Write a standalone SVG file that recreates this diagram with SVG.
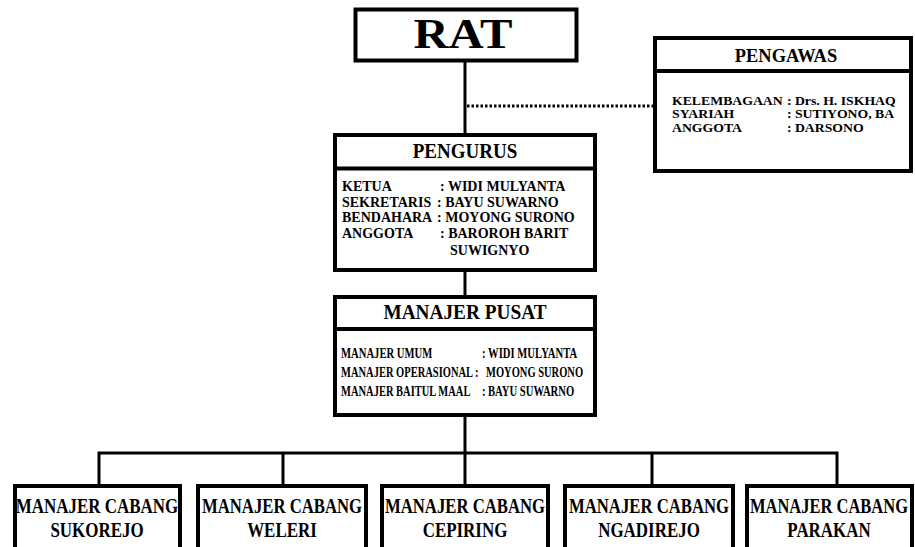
<svg xmlns="http://www.w3.org/2000/svg" width="915" height="547" viewBox="0 0 915 547">
<style>
.box{fill:#fff;stroke:#000;stroke-width:4}
.div{stroke:#000;stroke-width:4}
.t{font-family:"Liberation Serif","Times New Roman",serif;font-weight:bold;fill:#000}
.c{text-anchor:middle}
.ln{stroke:#000;stroke-width:3;fill:none}
.dot{stroke:#000;stroke-width:3;stroke-dasharray:2.5 2;fill:none}
.p{font-size:15px}
.b{font-size:22px;text-anchor:middle}
</style>
<rect width="915" height="547" fill="#fff"/>
<g id="connectors">
<line class="ln" x1="465" y1="61" x2="465" y2="134"/>
<line class="dot" x1="467" y1="106" x2="653" y2="106"/>
<line class="ln" x1="465" y1="271" x2="465" y2="296"/>
<line class="ln" x1="465" y1="416" x2="465" y2="453"/>
<polyline class="ln" points="99,485 99,453 837,453 837,485"/>
<line class="ln" x1="283" y1="453" x2="283" y2="485"/>
<line class="ln" x1="465" y1="453" x2="465" y2="485"/>
<line class="ln" x1="652" y1="453" x2="652" y2="485"/>
</g>
<g id="rat">
<rect class="box" x="355.5" y="9.5" width="221" height="51" stroke-width="4.5"/>
<text class="t c" transform="translate(463,48) scale(1.16,1)" font-size="42">RAT</text>
</g>
<g id="pengawas">
<rect class="box" x="655" y="38" width="256" height="133"/>
<line class="div" x1="655" y1="71" x2="911" y2="71" stroke-width="3.5"/>
<text class="t c" transform="translate(786,62) scale(0.97,1)" font-size="19">PENGAWAS</text>
<g transform="translate(672,0) scale(1.1,1)">
<text class="t" font-size="12.5" x="0" y="105">KELEMBAGAAN</text>
<text class="t" font-size="12.5" x="104.5" y="105">: Drs. H. ISKHAQ</text>
<text class="t" font-size="12.5" x="0" y="118.5">SYARIAH</text>
<text class="t" font-size="12.5" x="104.5" y="118.5">: SUTIYONO, BA</text>
<text class="t" font-size="12.5" x="0" y="132">ANGGOTA</text>
<text class="t" font-size="12.5" x="104.5" y="132">: DARSONO</text>
</g>
</g>
<g id="pengurus">
<rect class="box" x="335" y="135" width="260" height="135"/>
<line class="div" x1="335" y1="168.5" x2="595" y2="168.5"/>
<text class="t c" transform="translate(465,158) scale(0.95,1)" font-size="20">PENGURUS</text>
<text class="t" font-size="14">
<tspan x="342" y="191">KETUA</tspan><tspan x="440" y="191">: WIDI MULYANTA</tspan>
<tspan x="342" y="207">SEKRETARIS</tspan><tspan x="437" y="207">: BAYU SUWARNO</tspan>
<tspan x="342" y="222">BENDAHARA</tspan><tspan x="437" y="222">: MOYONG SURONO</tspan>
<tspan x="342" y="238">ANGGOTA</tspan><tspan x="440" y="238">: BAROROH BARIT</tspan>
<tspan x="450" y="255">SUWIGNYO</tspan>
</text>
</g>
<g id="manajer-pusat">
<rect class="box" x="335" y="297" width="260" height="118"/>
<line class="div" x1="335" y1="329" x2="595" y2="329"/>
<text class="t c" transform="translate(465,319) scale(0.92,1)" font-size="21">MANAJER PUSAT</text>
<text class="t p" transform="translate(341,358) scale(0.71,1)">MANAJER UMUM</text>
<text class="t p" transform="translate(482,358) scale(0.71,1)">:</text>
<text class="t p" transform="translate(488,358) scale(0.71,1)">WIDI MULYANTA</text>
<text class="t p" transform="translate(341,377) scale(0.70,1)">MANAJER OPERASIONAL</text>
<text class="t p" transform="translate(475,377) scale(0.71,1)">:</text>
<text class="t p" transform="translate(486,377) scale(0.70,1)">MOYONG SURONO</text>
<text class="t p" transform="translate(341,396) scale(0.70,1)">MANAJER BAITUL MAAL</text>
<text class="t p" transform="translate(482,396) scale(0.71,1)">:</text>
<text class="t p" transform="translate(488,396) scale(0.71,1)">BAYU SUWARNO</text>
</g>
<g id="cabang-sukorejo">
<rect class="box" x="15" y="486" width="165" height="80" stroke-width="4.5"/>
<text class="t b" transform="translate(97,513) scale(0.77,1)">MANAJER CABANG</text>
<text class="t b" transform="translate(97,537) scale(0.77,1)">SUKOREJO</text>
</g>
<g id="cabang-weleri">
<rect class="box" x="198" y="486" width="168" height="80" stroke-width="4.5"/>
<text class="t b" transform="translate(282,513) scale(0.76,1)">MANAJER CABANG</text>
<text class="t b" transform="translate(282,537) scale(0.77,1)">WELERI</text>
</g>
<g id="cabang-cepiring">
<rect class="box" x="382" y="486" width="166" height="80" stroke-width="4.5"/>
<text class="t b" transform="translate(465,513) scale(0.76,1)">MANAJER CABANG</text>
<text class="t b" transform="translate(465,537) scale(0.77,1)">CEPIRING</text>
</g>
<g id="cabang-ngadirejo">
<rect class="box" x="565" y="486" width="168" height="80" stroke-width="4.5"/>
<text class="t b" transform="translate(649,513) scale(0.76,1)">MANAJER CABANG</text>
<text class="t b" transform="translate(649,537) scale(0.77,1)">NGADIREJO</text>
</g>
<g id="cabang-parakan">
<rect class="box" x="747" y="486" width="165" height="80" stroke-width="4.5"/>
<text class="t b" transform="translate(829,513) scale(0.75,1)">MANAJER CABANG</text>
<text class="t b" transform="translate(829,537) scale(0.77,1)">PARAKAN</text>
</g>
</svg>
